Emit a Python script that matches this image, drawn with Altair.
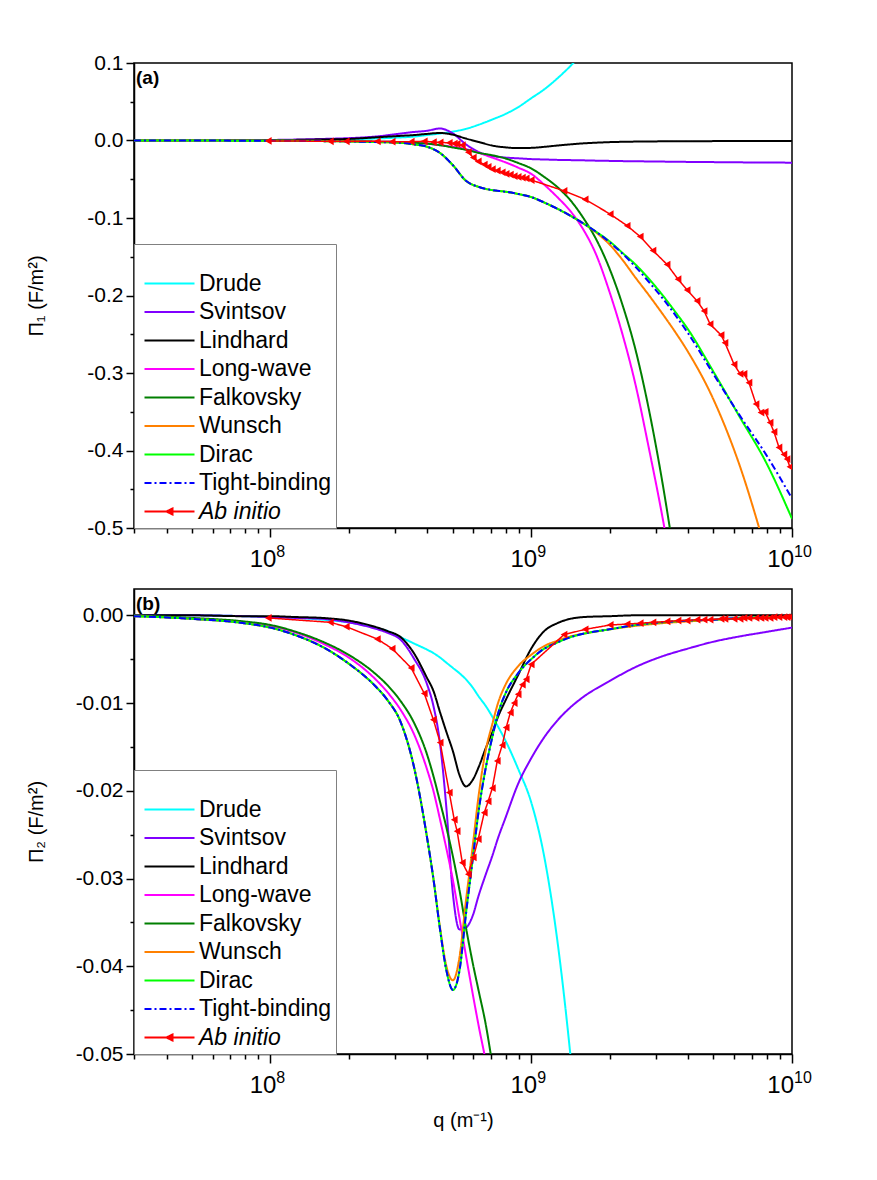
import altair as alt
import pandas as pd

FONT = "Liberation Sans"

SERIES = ["Drude", "Svintsov", "Lindhard", "Long-wave", "Falkovsky",
          "Wunsch", "Dirac", "Tight-binding", "Ab initio"]
COLORS = ["#00FFFF", "#8000FF", "#000000", "#FF00FF", "#007F00",
          "#FF8000", "#00FF00", "#0000FF", "#FF0000"]
DASHES = [[1, 0], [1, 0], [1, 0], [1, 0], [1, 0], [1, 0], [1, 0], [7, 3, 2, 3], [1, 0]]

# ---- panel (a): Pi_1, log10(q) grid
LQ_A = [7.477, 7.7, 8.0, 8.2, 8.3, 8.4, 8.5, 8.55, 8.6, 8.65, 8.7, 8.75, 8.8, 8.85, 8.9,
        8.95, 9.0, 9.05, 9.1, 9.15, 9.2, 9.25, 9.3, 9.35, 9.4, 9.45, 9.5, 9.55, 9.6,
        9.7, 9.8, 9.9, 10.0]
DRUDE_A = [0.0, 0.0001, 0.0003, 0.0008, 0.0015, 0.0025, 0.004, 0.005, 0.007, 0.009,
           0.0115, 0.015, 0.0205, 0.027, 0.034, 0.043, 0.0545, 0.066, 0.080, 0.096,
           0.114, 0.134, None, None, None, None, None, None, None, None, None, None, None]
SVINTSOV_A = [0.0, 0.0002, 0.0007, 0.002, 0.003, 0.005, 0.009, 0.011, 0.0125, 0.0155,
              0.009, -0.005, -0.015, -0.020, -0.022, -0.023, -0.024, -0.0245, -0.025,
              -0.0253, -0.0256, -0.026, -0.0263, -0.0266, -0.0268, -0.027, -0.0272,
              -0.0274, -0.0276, -0.0279, -0.0282, -0.0284, -0.0286]
LINDHARD_A = [0.0, 0.0002, 0.0005, 0.0013, 0.002, 0.004, 0.006, 0.007, 0.0085, 0.0097,
              0.0075, 0.0025, -0.002, -0.0065, -0.0088, -0.0098, -0.0095, -0.0082,
              -0.0065, -0.005, -0.0037, -0.0028, -0.0021, -0.0017, -0.0014, -0.0012,
              -0.0011, -0.001, -0.0009, -0.0008, -0.0007, -0.0006, -0.0006]
LONGWAVE_A = [0.0, 0.0, -0.0002, -0.0005, -0.001, -0.0015, -0.002, -0.003, -0.004, -0.006,
              -0.008, -0.011, -0.016, -0.022, -0.028, -0.035, -0.043, -0.057, -0.073,
              -0.091, -0.115, -0.148, -0.195, -0.25, -0.315, -0.395, -0.48, -0.575,
              None, None, None, None, None]
FALKOVSKY_A = [0.0, 0.0, -0.0002, -0.0005, -0.001, -0.0015, -0.002, -0.003, -0.004, -0.006,
               -0.009, -0.012, -0.016, -0.019, -0.023, -0.029, -0.036, -0.047, -0.060,
               -0.077, -0.100, -0.128, -0.165, -0.212, -0.27, -0.345, -0.435, -0.54,
               None, None, None, None, None]
WUNSCH_A = [0.0, -0.0001, -0.0003, -0.0008, -0.0012, -0.002, -0.003, -0.005, -0.008, -0.016,
            -0.032, -0.052, -0.060, -0.064, -0.066, -0.069, -0.073, -0.080, -0.088, -0.097,
            -0.107, -0.119, -0.134, -0.154, -0.177, -0.199, -0.222, -0.246, -0.272, -0.335,
            -0.42, -0.53, None]
DIRAC_A = [0.0, -0.0001, -0.0003, -0.0008, -0.0012, -0.002, -0.003, -0.005, -0.008, -0.016,
           -0.032, -0.052, -0.060, -0.064, -0.066, -0.069, -0.073, -0.080, -0.088, -0.097,
           -0.107, -0.118, -0.130, -0.145, -0.160, -0.178, -0.198, -0.220, -0.243, -0.299,
           -0.357, -0.415, -0.488]
TB_A = [0.0, -0.0001, -0.0003, -0.0008, -0.0012, -0.002, -0.003, -0.005, -0.008, -0.016,
        -0.032, -0.052, -0.060, -0.064, -0.066, -0.069, -0.073, -0.080, -0.088, -0.097,
        -0.107, -0.118, -0.131, -0.146, -0.163, -0.182, -0.202, -0.224, -0.248, -0.302,
        -0.355, -0.405, -0.462]

# ---- panel (b): Pi_2
LQ_B = [7.477, 7.7, 7.9, 8.0, 8.1, 8.2, 8.3, 8.4, 8.45, 8.5, 8.55, 8.6, 8.625, 8.65, 8.675,
        8.7, 8.725, 8.75, 8.775, 8.8, 8.825, 8.85, 8.875, 8.9, 8.95, 9.0, 9.05, 9.1, 9.15,
        9.2, 9.3, 9.4, 9.5, 9.6, 9.7, 9.8, 9.9, 10.0]
DRUDE_B = [0.0, 0.0, -0.0001, -0.0002, -0.0003, -0.0005, -0.0008, -0.0014, -0.0018, -0.0025,
           -0.0032, -0.0039, -0.0043, -0.0048, -0.0054, -0.006, -0.0066, -0.0073, -0.0082,
           -0.0093, -0.0103, -0.0115, -0.0128, -0.0142, -0.0175, -0.0213, -0.0275, -0.037,
           -0.050, -0.066, None, None, None, None, None, None, None, None]
SVINTSOV_B = [0.0, 0.0, -0.0001, -0.0002, -0.0003, -0.0004, -0.0008, -0.0015, -0.002, -0.0028,
              -0.0049, -0.0078, -0.0103, -0.0145, -0.022, -0.0318, -0.0358, -0.0356, -0.0343,
              -0.0318, -0.0296, -0.0275, -0.0252, -0.0232, -0.0192, -0.0163, -0.0139, -0.012,
              -0.0105, -0.0093, -0.0075, -0.0059, -0.0047, -0.0038, -0.003, -0.0024, -0.0019,
              -0.0014]
LINDHARD_B = [0.0, 0.0, -0.0001, -0.0001, -0.0002, -0.0003, -0.0006, -0.0013, -0.0018, -0.0025,
              -0.0043, -0.0071, -0.0086, -0.011, -0.0133, -0.0155, -0.0182, -0.0195, -0.0188,
              -0.0172, -0.0152, -0.0134, -0.0114, -0.0098, -0.0068, -0.0038, -0.0018, -0.0009,
              -0.0004, -0.0002, -0.0001, 0.0, 0.0, 0.0, 0.0, 0.0, 0.0, 0.0]
LONGWAVE_B = [0.0, -0.0004, -0.0008, -0.0012, -0.002, -0.0032, -0.0048, -0.0072, -0.0088,
              -0.0108, -0.0135, -0.0175, -0.0200, -0.0232, -0.0266, -0.0302, -0.0345, -0.0388,
              -0.043, -0.047, -0.0507, -0.055, None, None, None, None, None, None, None, None,
              None, None, None, None, None, None, None, None]
FALKOVSKY_B = [0.0, -0.0003, -0.0007, -0.0011, -0.0019, -0.003, -0.0045, -0.0066, -0.008,
               -0.0098, -0.0122, -0.0158, -0.0183, -0.0212, -0.0242, -0.0275, -0.0313, -0.0356,
               -0.0395, -0.043, -0.0465, -0.051, -0.056, None, None, None, None, None, None,
               None, None, None, None, None, None, None, None, None]
WUNSCH_B = [-0.0001, -0.0004, -0.0009, -0.0014, -0.0023, -0.0036, -0.0055, -0.0080, -0.0097,
            -0.0122, -0.0172, -0.0252, -0.030, -0.0355, -0.040, -0.0416, -0.039, -0.0325,
            -0.0265, -0.0202, -0.0155, -0.0125, -0.0098, -0.0080, -0.0058, -0.0045, -0.0035,
            -0.0029, -0.0024, -0.0021, -0.0016, -0.0012, -0.0009, -0.0007, -0.0005, -0.0004,
            -0.0003, -0.0002]
DIRAC_B = [-0.0001, -0.0004, -0.0009, -0.0014, -0.0023, -0.0036, -0.0055, -0.0080, -0.0097,
           -0.0122, -0.0172, -0.0252, -0.030, -0.0357, -0.0405, -0.0427, -0.0405, -0.034,
           -0.028, -0.022, -0.0175, -0.014, -0.011, -0.0090, -0.0066, -0.0050, -0.0038, -0.0031,
           -0.0025, -0.0021, -0.0016, -0.0011, -0.0008, -0.0006, -0.0005, -0.0003, -0.0002,
           -0.0002]
TB_B = [-0.0001, -0.0004, -0.0009, -0.0014, -0.0023, -0.0036, -0.0055, -0.0080, -0.0097,
        -0.0122, -0.0172, -0.0252, -0.030, -0.0357, -0.0405, -0.0427, -0.0405, -0.034,
        -0.028, -0.022, -0.0175, -0.014, -0.011, -0.0090, -0.0066, -0.0050, -0.0038, -0.0031,
        -0.0025, -0.0021, -0.0016, -0.0011, -0.0008, -0.0006, -0.0005, -0.0003, -0.0002,
        -0.0002]

# ---- ab initio points (same q in both panels)
LQ_AI = [7.992, 8.230, 8.291, 8.410, 8.467, 8.540, 8.590, 8.625, 8.651, 8.686, 8.705, 8.716,
         8.736, 8.759, 8.778, 8.797, 8.820, 8.835, 8.851, 8.870, 8.889, 8.904, 8.920, 8.935,
         8.950, 8.966, 8.981, 9.000, 9.126, 9.207, 9.303, 9.368, 9.418, 9.467, 9.521, 9.563,
         9.598, 9.636, 9.663, 9.686, 9.728, 9.743, 9.778, 9.801, 9.816, 9.835, 9.862, 9.881,
         9.897, 9.916, 9.931, 9.950, 9.969, 9.981, 9.992]
AI_A = [-0.0005, -0.001, -0.001, -0.001, -0.0015, -0.0015, -0.001, -0.002, -0.0025, -0.003,
        -0.004, -0.0045, -0.006, -0.015, -0.022, -0.027, -0.031, -0.034, -0.037, -0.039,
        -0.041, -0.043, -0.044, -0.046, -0.047, -0.048, -0.049, -0.051, -0.065, -0.076,
        -0.095, -0.110, -0.124, -0.142, -0.160, -0.179, -0.193, -0.207, -0.220, -0.237,
        -0.251, -0.261, -0.289, -0.301, -0.301, -0.3125, -0.340, -0.351, -0.350, -0.364,
        -0.376, -0.396, -0.405, -0.411, -0.421]
AI_B = [-0.0003, -0.0008, -0.0013, -0.0027, -0.0038, -0.0060, -0.0089, -0.0119, -0.0145,
        -0.0202, -0.0233, -0.0246, -0.0282, -0.0295, -0.0276, -0.0255, -0.0225, -0.0212,
        -0.0197, -0.0166, -0.0148, -0.0128, -0.0111, -0.0100, -0.0090, -0.0079, -0.0073,
        -0.0056, -0.0022, -0.0016, -0.0011, -0.0010, -0.0009, -0.0008, -0.0007, -0.0006,
        -0.0006, -0.0005, -0.0005, -0.0005, -0.0004, -0.0004, -0.0004, -0.0004, -0.0003,
        -0.0003, -0.0003, -0.0003, -0.0003, -0.0003, -0.0002, -0.0002, -0.0002, -0.0002,
        -0.0002]

X_MAJOR = [1e8, 1e9, 1e10]
X_EXP = ["8", "9", "10"]
X_MINOR = [k * 10.0 ** e for e in (7, 8, 9) for k in range(2, 10) if k * 10.0 ** e >= 3e7]

W, H = 658, 465
LINE_PATH = "M-5,0H5"
AI_PATH = "M-5,0H5M0.6,-0.6L-0.6,0L0.6,0.6Z"


def long_table(lq, columns):
    rows = []
    for name, vals in columns:
        for l, v in zip(lq, vals):
            if v is not None:
                rows.append({"q": 10 ** l, "v": v, "series": name})
    return pd.DataFrame(rows)


def panel(models, ai, y_dom, y_major, y_minor, decimals, y_title, tag, x_title):
    xs = alt.Scale(type="log", domain=[3e7, 1e10])
    ys = alt.Scale(domain=y_dom)
    legend = alt.Legend(
        title=" ", titleFontSize=16, titlePadding=8,
        orient="bottom-left", offset=0, padding=4,
        fillColor="white", strokeColor="#808080", cornerRadius=0,
        labelFont=FONT, labelFontSize=23, labelColor="black",
        labelFontStyle=alt.ExprRef("datum.value == 'Ab initio' ? 'italic' : 'normal'"),
        symbolType=alt.ExprRef(f"datum.value == 'Ab initio' ? '{AI_PATH}' : '{LINE_PATH}'"),
        symbolFillColor=alt.ExprRef("datum.value == 'Ab initio' ? '#FF0000' : 'transparent'"),
        symbolSize=100, symbolStrokeWidth=2, symbolOffset=20, labelOffset=18,
        rowPadding=4.5,
    )
    color = alt.Color("series:N", scale=alt.Scale(domain=SERIES, range=COLORS), legend=legend)
    dash = alt.StrokeDash("series:N", scale=alt.Scale(domain=SERIES, range=DASHES), legend=legend)

    fmt = f"'.{decimals}f'"
    y_axis = alt.Axis(
        values=y_major, orient="left", tickSize=8, tickWidth=1.5, tickColor="black",
        domainColor="black", domainWidth=1.5, labelFontSize=21, labelPadding=3,
        labelExpr=f"(datum.value < -1e-9 ? '-' : '') + format(abs(datum.value), {fmt})",
        title=y_title, titleFontSize=20, titleFontWeight="normal", titleX=-88,
        titleBaseline="bottom",
    )
    y_minor_axis = alt.Axis(values=y_minor, orient="left", tickSize=4, tickWidth=1.5,
                            tickColor="black", labels=False, domain=False, title=None)
    x_axis = alt.Axis(
        values=X_MAJOR, orient="bottom", tickSize=9, tickWidth=1.5, tickColor="black",
        domainColor="black", domainWidth=1.5, labels=False,
        title=x_title, titleFontSize=20, titleFontWeight="normal", titleY=56,
        titleBaseline="top",
    )
    x_minor_axis = alt.Axis(values=X_MINOR, orient="bottom", tickSize=5, tickWidth=1.5,
                            tickColor="black", labels=False, domain=False, title=None)

    lines = alt.Chart(models).mark_line(strokeWidth=2, clip=True, interpolate="monotone").encode(
        x=alt.X("q:Q", scale=xs, axis=x_axis),
        y=alt.Y("v:Q", scale=ys, axis=y_axis),
        color=color, strokeDash=dash,
    )
    ai_line = alt.Chart(ai).mark_line(strokeWidth=1.5, clip=True).encode(
        x=alt.X("q:Q", scale=xs, axis=None),
        y=alt.Y("v:Q", scale=ys, axis=None),
        color=color, strokeDash=dash,
    )
    ai_pts = alt.Chart(ai).mark_point(shape="triangle-left", filled=True, size=60,
                                      color="#FF0000", opacity=1, clip=True).encode(
        x=alt.X("q:Q", scale=xs, axis=x_minor_axis),
        y=alt.Y("v:Q", scale=ys, axis=y_minor_axis),
    )

    ticks = pd.DataFrame({"q": X_MAJOR, "exp": X_EXP})
    shift = alt.ExprRef("datum.exp == '10' ? 2 : 6")
    base_lbl = alt.Chart(ticks).mark_text(
        text="10", align="right", baseline="top", font=FONT, fontSize=24,
        color="black", y=H + 20, dx=shift,
    ).encode(x=alt.X("q:Q", scale=xs, axis=None))
    exp_lbl = alt.Chart(ticks).mark_text(
        align="left", baseline="top", font=FONT, fontSize=16, color="black",
        y=H + 16, dx=shift,
    ).encode(x=alt.X("q:Q", scale=xs, axis=None), text="exp:N")

    tag_txt = alt.Chart(pd.DataFrame({"t": [tag]})).mark_text(
        align="left", baseline="top", font=FONT, fontSize=19, fontWeight="bold",
        color="black", x=2, y=6,
    ).encode(text="t:N")

    return alt.layer(lines, ai_line, ai_pts, base_lbl, exp_lbl, tag_txt).resolve_axis(
        x="independent", y="independent"
    ).properties(width=W, height=H)


models_a = long_table(LQ_A, [
    ("Drude", DRUDE_A), ("Svintsov", SVINTSOV_A), ("Lindhard", LINDHARD_A),
    ("Long-wave", LONGWAVE_A), ("Falkovsky", FALKOVSKY_A), ("Wunsch", WUNSCH_A),
    ("Dirac", DIRAC_A), ("Tight-binding", TB_A)])
models_b = long_table(LQ_B, [
    ("Drude", DRUDE_B), ("Svintsov", SVINTSOV_B), ("Lindhard", LINDHARD_B),
    ("Long-wave", LONGWAVE_B), ("Falkovsky", FALKOVSKY_B), ("Wunsch", WUNSCH_B),
    ("Dirac", DIRAC_B), ("Tight-binding", TB_B)])
ai_a = long_table(LQ_AI, [("Ab initio", AI_A)])
ai_b = long_table(LQ_AI, [("Ab initio", AI_B)])

top = panel(models_a, ai_a, [-0.5, 0.1],
            [-0.5, -0.4, -0.3, -0.2, -0.1, 0.0, 0.1],
            [-0.45, -0.35, -0.25, -0.15, -0.05, 0.05],
            1, "\u03a0\u2081 (F/m\u00b2)", "(a)", None)
bottom = panel(models_b, ai_b, [-0.05, 0.003],
               [-0.05, -0.04, -0.03, -0.02, -0.01, 0.0],
               [-0.045, -0.035, -0.025, -0.015, -0.005],
               2, "\u03a0\u2082 (F/m\u00b2)", "(b)", "q (m\u207b\u00b9)")

chart = alt.vconcat(top, bottom, spacing=15).resolve_scale(
    color="independent", strokeDash="independent"
).resolve_legend(
    color="independent", strokeDash="independent"
).properties(
    padding={"left": 17, "top": 43, "right": 5, "bottom": 5}
).configure_axis(
    labelFont=FONT, titleFont=FONT, labelColor="black", titleColor="black", grid=False
).configure_view(stroke="black", strokeWidth=1.5)

chart.save("out.html", embed_options={"renderer": "svg", "actions": False})
